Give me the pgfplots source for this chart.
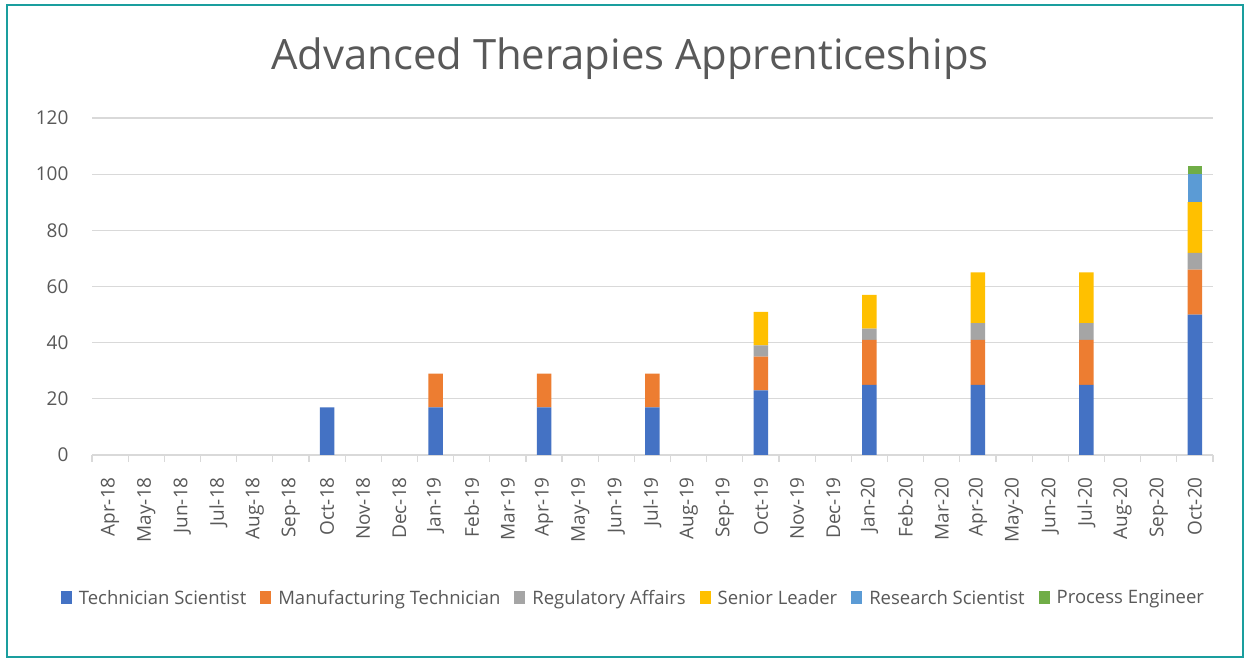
\documentclass[border=0pt]{standalone}
\usepackage{pgfplots}
\pgfplotsset{compat=1.18}
\usepackage{fontspec}
\setmainfont{Open Sans}
\definecolor{txt}{HTML}{595959}
\definecolor{gridgray}{HTML}{D9D9D9}
\definecolor{frame}{HTML}{1A9E9E}
\definecolor{cTS}{HTML}{4472C4}
\definecolor{cMT}{HTML}{ED7D31}
\definecolor{cRA}{HTML}{A5A5A5}
\definecolor{cSL}{HTML}{FFC000}
\definecolor{cRS}{HTML}{5B9BD5}
\definecolor{cPE}{HTML}{70AD47}
\pgfplotstableread{
x TS MT RA SL RS PE
6 17 0 0 0 0 0
9 17 12 0 0 0 0
12 17 12 0 0 0 0
15 17 12 0 0 0 0
18 23 12 4 12 0 0
21 25 16 4 12 0 0
24 25 16 6 18 0 0
27 25 16 6 18 0 0
30 50 16 6 18 10 3
}\datatable
\begin{document}
\begin{tikzpicture}[x=1pt,y=1pt]
\fill[white] (0,0) rectangle (1258,658);
\draw[frame, line width=2pt] (7,1) rectangle (1243,653);
\node[text=txt, font=\fontsize{41.8}{48}\selectfont] at (630,599) {Advanced Therapies Apprenticeships};
\begin{axis}[
  at={(92pt,203pt)}, anchor=south west,
  scale only axis, width=1121pt, height=337pt,
  ybar stacked, bar width=14.5pt,
  xmin=-0.5, xmax=30.5, ymin=0, ymax=120,
  ytick={0,20,...,120},
  xtick={0,...,30},
  xticklabels={Apr-18,May-18,Jun-18,Jul-18,Aug-18,Sep-18,Oct-18,Nov-18,Dec-18,Jan-19,Feb-19,Mar-19,Apr-19,May-19,Jun-19,Jul-19,Aug-19,Sep-19,Oct-19,Nov-19,Dec-19,Jan-20,Feb-20,Mar-20,Apr-20,May-20,Jun-20,Jul-20,Aug-20,Sep-20,Oct-20},
  minor xtick={-0.5,0.5,...,30.5},
  axis x line*=bottom, axis y line*=left,
  y axis line style={draw=none},
  x axis line style={draw=gridgray, line width=1.2pt},
  major tick length=0pt,
  minor tick length=7pt,
  tick align=outside,
  minor x tick style={draw=gridgray, line width=1.2pt},
  ymajorgrids, grid style={draw=gridgray, line width=1.2pt},
  /pgf/number format/assume math mode=true,
  tick label style={text=txt, font=\fontsize{19}{22}\selectfont},
  x tick label style={rotate=90, anchor=east, inner sep=0pt, xshift=-22pt},
  y tick label style={xshift=-20pt},
  every axis plot/.append style={draw=none},
  legend columns=6,
  legend style={at={(0.483,-0.424)}, anchor=center, draw=none, fill=none,
    font=\fontsize{18.5}{22}\selectfont, text=txt,
    /tikz/every odd column/.append style={column sep=5pt},
    /tikz/every even column/.append style={column sep=12pt}},
  legend image code/.code={\fill[#1] (0pt,-6.5pt) rectangle (11pt,6.5pt);},
]
\addplot[fill=cTS] table[x=x,y=TS] {\datatable};
\addplot[fill=cMT] table[x=x,y=MT] {\datatable};
\addplot[fill=cRA] table[x=x,y=RA] {\datatable};
\addplot[fill=cSL] table[x=x,y=SL] {\datatable};
\addplot[fill=cRS] table[x=x,y=RS] {\datatable};
\addplot[fill=cPE] table[x=x,y=PE] {\datatable};
\legend{Technician Scientist,Manufacturing Technician,Regulatory Affairs,Senior Leader,Research Scientist,Process Engineer}
\end{axis}
\end{tikzpicture}
\end{document}
